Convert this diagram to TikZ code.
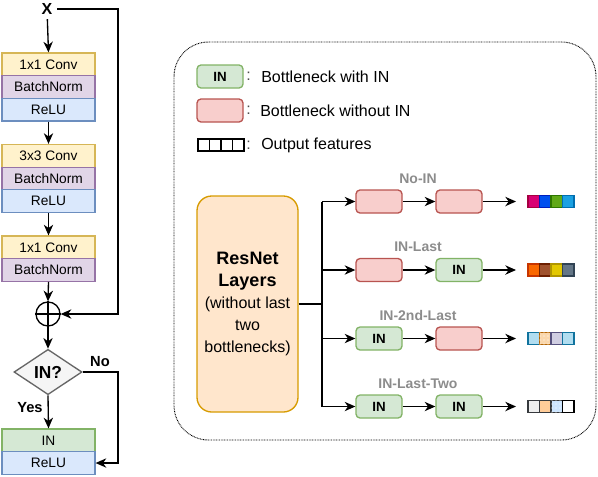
\documentclass[tikz,border=0pt]{standalone}
\usepackage{fontspec}
\setmainfont{Liberation Sans}
\usetikzlibrary{shapes.geometric,arrows.meta,patterns}
\definecolor{convF}{HTML}{FFF2CC}\definecolor{convD}{HTML}{D6B656}
\definecolor{bnF}{HTML}{E1D5E7}\definecolor{bnD}{HTML}{9673A6}
\definecolor{reluF}{HTML}{DAE8FC}\definecolor{reluD}{HTML}{6C8EBF}
\definecolor{inF}{HTML}{D5E8D4}\definecolor{inD}{HTML}{82B366}
\definecolor{outF}{HTML}{F8CECC}\definecolor{outD}{HTML}{B85450}
\definecolor{resF}{HTML}{FFE6CC}\definecolor{resD}{HTML}{D79B00}
\definecolor{diaF}{HTML}{F5F5F5}\definecolor{diaD}{HTML}{666666}
\definecolor{lblgray}{HTML}{8C8C8C}
% feature colours
\definecolor{fa1}{HTML}{D80073}\definecolor{da1}{HTML}{A50040}
\definecolor{fa2}{HTML}{0050EF}\definecolor{da2}{HTML}{001DBC}
\definecolor{fa3}{HTML}{60A917}\definecolor{da3}{HTML}{2D7600}
\definecolor{fa4}{HTML}{1BA1E2}\definecolor{da4}{HTML}{006EAF}
\definecolor{fb1}{HTML}{FA6800}\definecolor{db1}{HTML}{C73500}
\definecolor{fb2}{HTML}{A0522D}\definecolor{db2}{HTML}{6D1F00}
\definecolor{fb3}{HTML}{E3C800}\definecolor{db3}{HTML}{B09500}
\definecolor{fb4}{HTML}{647687}\definecolor{db4}{HTML}{314354}
\definecolor{fc1}{HTML}{B1DDF0}\definecolor{dc1}{HTML}{10739E}
\definecolor{fc2}{HTML}{FAD7AC}\definecolor{dc2}{HTML}{B46504}
\definecolor{fc3}{HTML}{D0CEE2}\definecolor{dc3}{HTML}{56517E}
\definecolor{fd1}{HTML}{EEEEEE}\definecolor{dd}{HTML}{36393D}
\definecolor{fd2}{HTML}{FFCC99}
\definecolor{fd3}{HTML}{CCE5FF}
\begin{document}
\begin{tikzpicture}[x=0.75pt,y=-0.75pt,
  layer/.style={draw, line width=0.9pt, minimum width=69.75pt, minimum height=17pt, inner sep=0pt, font=\fontsize{10.3}{12}\selectfont},
  convbox/.style={layer, fill=convF, draw=convD},
  bnbox/.style={layer, fill=bnF, draw=bnD},
  relubox/.style={layer, fill=reluF, draw=reluD},
  inbox/.style={layer, fill=inF, draw=inD},
  arr/.style={-{Stealth[length=8pt,width=7pt,inset=2.5pt]}, line width=1pt},
  plain/.style={line width=1pt},
  bneck/.style={draw, rounded corners=3pt, minimum width=34.5pt, minimum height=17.25pt, inner sep=0pt, line width=1pt, font=\fontsize{10}{12}\selectfont\bfseries},
  bin/.style={bneck, fill=inF, draw=inD},
  bout/.style={bneck, fill=outF, draw=outD},
  feat/.style={draw, line width=0.9pt, minimum width=8.6pt, minimum height=9pt, inner sep=0pt},
  lbl/.style={font=\fontsize{10.5}{12}\selectfont\bfseries, text=lblgray},
  legtext/.style={font=\fontsize{12}{14}\selectfont, anchor=west, inner sep=0pt},
  dotpat/.style={postaction={pattern=dots, pattern color=white}}
]
\useasboundingbox (0,0) rectangle (598,476);

% ---------- left column ----------
\node[font=\fontsize{12}{14}\selectfont\bfseries] (x) at (47,9) {X};
\node[convbox] (c1) at (48.5,64.3) {1x1 Conv};
\node[bnbox]   (b1) at (48.5,87) {BatchNorm};
\node[relubox] (r1) at (48.5,109.7) {ReLU};
\node[convbox] (c2) at (48.5,155.8) {3x3 Conv};
\node[bnbox]   (b2) at (48.5,178.5) {BatchNorm};
\node[relubox] (r2) at (48.5,201.2) {ReLU};
\node[convbox] (c3) at (48.5,247.3) {1x1 Conv};
\node[bnbox]   (b3) at (48.5,270) {BatchNorm};
\node[draw, circle, line width=1pt, minimum size=18pt, inner sep=0pt] (plus) at (48,314) {};
\draw[plain] (plus.north) -- (plus.south) (plus.west) -- (plus.east);
\node[diamond, draw=diaD, fill=diaF, line width=1pt, minimum width=51pt, minimum height=34pt, inner sep=0pt, font=\fontsize{13}{14}\selectfont\bfseries] (dia) at (48,372) {IN?};
\node[inbox]   (in) at (48.5,440.3) {IN};
\node[relubox] (r4) at (48.5,463) {ReLU};
\node[font=\fontsize{11}{12}\selectfont\bfseries] (yes) at (30,408) {Yes};
\node[font=\fontsize{11}{12}\selectfont\bfseries] (no) at (100,362) {No};

\draw[arr] (x) -- (c1.north);
\draw[arr] (r1.south) -- (c2.north);
\draw[arr] (r2.south) -- (c3.north);
\draw[arr] (b3.south) -- (plus.north);
\draw[arr] (plus.south) -- (dia.north);
\draw[arr] (dia.south) -- (in.north);
\coordinate (skip) at (118,314);
\draw[arr] (x.east) -| (skip) -- (plus.east);
\coordinate (nocorner) at (118,463);
\draw[arr] (dia.east) -| (nocorner) -- (r4.east);

% ---------- right panel ----------
\draw[line width=0.7pt, dash pattern=on 0.6pt off 0.6pt, rounded corners=26pt] (174,42) rectangle (596,440);

% legend
\node[bin] (lg1) at (220,76.5) {IN};
\node[bout] (lg2) at (220,110.5) {};
\node[feat, fill=white, draw=black] (lf1) at (203.75,145) {};
\node[feat, fill=white, draw=black] (lf2) at (215.25,145) {};
\node[feat, fill=white, draw=black] (lf3) at (226.75,145) {};
\node[feat, fill=white, draw=black] (lf4) at (238.25,145) {};
\node[legtext, text=black!70] (c1l) at (246,76.5) {:};
\node[legtext] (t1) at (261,76.5) {Bottleneck with IN};
\node[legtext, text=black!70] (c2l) at (246,110.5) {:};
\node[legtext] (t2) at (260,110.5) {Bottleneck without IN};
\node[legtext, text=black!70] (c3l) at (246,145) {:};
\node[legtext] (t3) at (261,145) {Output features};

% ResNet block
\node[draw=resD, fill=resF, line width=1pt, rounded corners=11pt, minimum width=75.75pt, minimum height=162pt, inner sep=0pt, align=center, font=\fontsize{12}{16.5}\selectfont] (res) at (247.5,304)
  {{\fontsize{13.5}{16.5}\selectfont\bfseries ResNet}\\{\fontsize{13.5}{16.5}\selectfont\bfseries Layers}\\(without last\\two\\bottlenecks)};

% branches
\node[bout] (n1a) at (379,201.5) {};
\node[bout] (n1b) at (459,201.5) {};
\node[bout] (n2a) at (379,270) {};
\node[bin]  (n2b) at (459,270) {IN};
\node[bin]  (n3a) at (379,338.5) {IN};
\node[bout] (n3b) at (459,338.5) {};
\node[bin]  (n4a) at (379,406.5) {IN};
\node[bin]  (n4b) at (459,406.5) {IN};

\node[lbl] (l1) at (418,179) {No-IN};
\node[lbl] (l2) at (418,247) {IN-Last};
\node[lbl] (l3) at (418,315) {IN-2nd-Last};
\node[lbl] (l4) at (418,384) {IN-Last-Two};

\coordinate (fork) at (322,304);
\coordinate (ft) at (322,201.5);
\coordinate (fb) at (322,406.5);
\draw[plain] (res.east) -- (fork);
\draw[plain] (ft) -- (fb);
\draw[arr] (ft) -- (n1a.west);
\draw[arr] (322,270) -- (n2a.west);
\draw[arr] (322,338.5) -- (n3a.west);
\draw[arr] (fb) -- (n4a.west);
\draw[arr] (n1a) -- (n1b);
\draw[arr] (n2a) -- (n2b);
\draw[arr] (n3a) -- (n3b);
\draw[arr] (n4a) -- (n4b);
\coordinate (e1) at (516,201.5);
\coordinate (e2) at (516,270);
\coordinate (e3) at (516,338.5);
\coordinate (e4) at (516,406.5);
\draw[arr] (n1b.east) -- (e1);
\draw[arr] (n2b.east) -- (e2);
\draw[arr] (n3b.east) -- (e3);
\draw[arr] (n4b.east) -- (e4);

% features
\node[feat, fill=fa1, draw=da1] (f11) at (533.75,201.5) {};
\node[feat, fill=fa2, draw=da2] (f12) at (545.25,201.5) {};
\node[feat, fill=fa3, draw=da3] (f13) at (556.75,201.5) {};
\node[feat, fill=fa4, draw=da4] (f14) at (568.25,201.5) {};
\node[feat, fill=fb1, draw=db1] (f21) at (533.75,270) {};
\node[feat, fill=fb2, draw=db2] (f22) at (545.25,270) {};
\node[feat, fill=fb3, draw=db3] (f23) at (556.75,270) {};
\node[feat, fill=fb4, draw=db4] (f24) at (568.25,270) {};
\node[feat, fill=fc1, draw=dc1] (f31) at (533.75,338.5) {};
\node[feat, fill=fc2, draw=dc2, dotpat] (f32) at (545.25,338.5) {};
\node[feat, fill=fc3, draw=dc3] (f33) at (556.75,338.5) {};
\node[feat, fill=fc1, draw=dc1] (f34) at (568.25,338.5) {};
\node[feat, fill=fd1, draw=dd] (f41) at (533.75,406.5) {};
\node[feat, fill=fd2, draw=dd] (f42) at (545.25,406.5) {};
\node[feat, fill=fd3, draw=dd, dotpat] (f43) at (556.75,406.5) {};
\node[feat, fill=white, draw=black] (f44) at (568.25,406.5) {};
\end{tikzpicture}
\end{document}
